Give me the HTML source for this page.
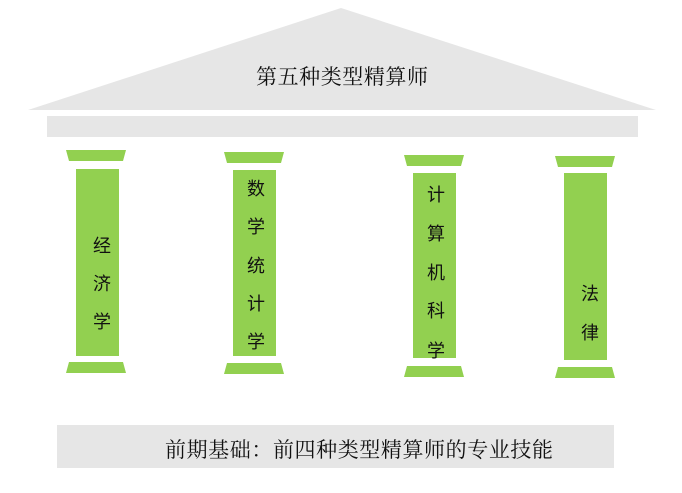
<!DOCTYPE html>
<html><head><meta charset="utf-8"><style>
html,body{margin:0;padding:0;background:#fff;}
svg{display:block;}
.s{font-family:"Liberation Serif","Noto Serif CJK SC",serif;font-size:21px;fill:#111;}
.p{font-family:"Liberation Sans","Noto Sans CJK SC",sans-serif;font-size:18px;fill:#111;text-anchor:middle;}
</style></head><body>
<svg width="682" height="493" viewBox="0 0 682 493" xmlns="http://www.w3.org/2000/svg">
<polygon points="341,8 656,110 28,110" fill="#e6e6e6"/>
<rect x="47" y="116" width="591" height="21" fill="#e6e6e6"/>
<rect x="57" y="425" width="557" height="43" fill="#e6e6e6"/>
<text class="s" x="342" y="84" text-anchor="middle" textLength="172">第五种类型精算师</text>
<text class="s" x="165" y="457" textLength="388">前期基础：前四种类型精算师的专业技能</text>
<g fill="#92d050">
<polygon points="66,150 126,150 123,161 69,161"/><rect x="76" y="169" width="43" height="187"/><polygon points="69,362 123,362 126,373 66,373"/>
<polygon points="224,152 284,152 281,163 227,163"/><rect x="233" y="170" width="43" height="186"/><polygon points="227,363 281,363 284,374 224,374"/>
<polygon points="404,155 464,155 461,166 407,166"/><rect x="413" y="173" width="43" height="185"/><polygon points="407,366 461,366 464,377 404,377"/>
<polygon points="555,156 615,156 612,167 558,167"/><rect x="564" y="173" width="43" height="187"/><polygon points="558,367 612,367 615,378 555,378"/>
</g>
<text class="p" x="102" y="252">经</text><text class="p" x="102" y="290">济</text><text class="p" x="102" y="328">学</text>
<text class="p" x="256" y="195">数</text><text class="p" x="256" y="233">学</text><text class="p" x="256" y="272">统</text><text class="p" x="256" y="310">计</text><text class="p" x="256" y="348">学</text>
<text class="p" x="436" y="201">计</text><text class="p" x="436" y="240">算</text><text class="p" x="436" y="279">机</text><text class="p" x="436" y="317">科</text><text class="p" x="436" y="357">学</text>
<text class="p" x="590" y="300">法</text><text class="p" x="590" y="339">律</text>
</svg>
</body></html>
